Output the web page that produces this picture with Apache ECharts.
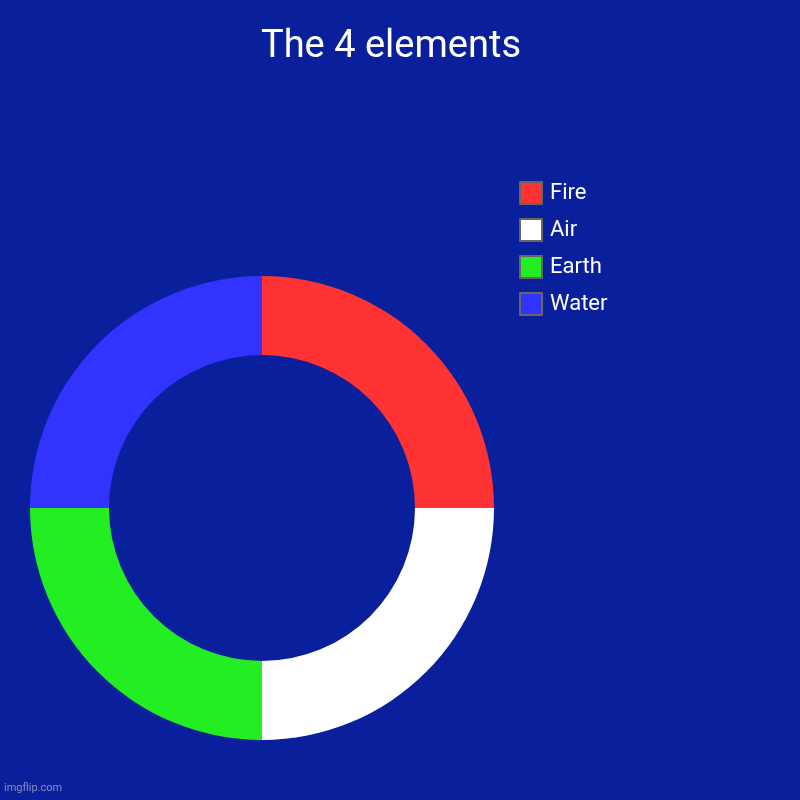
<!DOCTYPE html>
<html>
<head>
<meta charset="utf-8">
<script src="https://cdn.jsdelivr.net/npm/echarts@6/dist/echarts.min.js"></script>
<style>
html, body { margin: 0; padding: 0; background: #0a1f9c; }
#pie { width: 800px; height: 800px; }
</style>
</head>
<body>
<div id="pie"></div>
<script>
// donut chart, 4 elements
var names = ['Fire', 'Air', 'Earth', 'Water'];
var values = [1, 1, 1, 1];
var colors = ['#ff3333', '#ffffff', '#22ee22', '#3333ff'];

var pie = echarts.init(document.getElementById('pie'));
pie.setOption({
    backgroundColor: '#0a1f9c',
    color: colors,
    animation: false,
    title: {
        text: 'The 4 elements',
        left: 256,
        top: 23,
        textStyle: {
            fontFamily: 'Roboto',
            fontSize: 38,
            fontWeight: 'normal',
            color: '#ffffff'
        }
    },
    legend: {
        orient: 'vertical',
        left: 514,
        top: 176,
        itemWidth: 22,
        itemHeight: 22,
        itemGap: 13,
        icon: 'rect',
        itemStyle: {
            borderColor: '#666666',
            borderWidth: 2
        },
        textStyle: {
            fontFamily: 'Roboto',
            fontSize: 22,
            color: '#ffffff',
            padding: [0, 0, 0, 3]
        },
        data: names
    },
    graphic: [{
        type: 'text',
        left: 4,
        top: 783,
        style: {
            text: 'imgflip.com',
            fontFamily: 'Roboto',
            fontSize: 11,
            fill: '#8a8fb8'
        }
    }],
    series: [
        {
            name: 'elements',
            type: 'pie',
            center: [262, 508],
            radius: [153, 232],
            startAngle: 90,
            clockwise: true,
            label: { show: false },
            labelLine: { show: false },
            emphasis: { scale: false },
            data: names.map(function (n, i) {
                return { name: n, value: values[i] };
            })
        }
    ]
});
</script>
</body>
</html>
